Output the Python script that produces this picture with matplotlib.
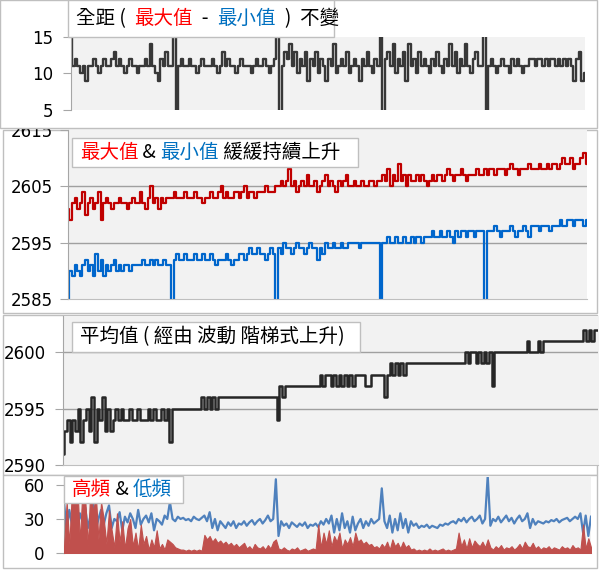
import numpy as np
import matplotlib
matplotlib.use('Agg')
import matplotlib.pyplot as plt
from matplotlib.patches import Rectangle
from matplotlib.offsetbox import TextArea, HPacker, AnchoredOffsetbox

# range (max - min), 5 blocks of 40 readings
range_vals = [
    15, 11, 12, 11, 10, 11, 9, 11, 11, 12, 11, 10, 11, 12, 11, 11, 12, 13, 11, 12,
    11, 10, 11, 12, 11, 11, 10, 11, 11, 12, 11, 14, 11, 10, 9, 12, 11, 13, 11, 11,
    16, 4, 11, 12, 11, 11, 12, 11, 11, 10, 11, 12, 11, 11, 11, 12, 11, 10, 11, 13,
    11, 12, 11, 11, 10, 11, 12, 11, 11, 11, 10, 11, 12, 11, 11, 12, 11, 10, 11, 12,
    16, 4, 11, 13, 12, 14, 11, 13, 10, 12, 11, 13, 9, 12, 11, 13, 10, 12, 11, 9,
    12, 11, 14, 10, 11, 12, 11, 13, 10, 11, 12, 11, 9, 12, 11, 13, 11, 10, 12, 11,
    16, 4, 12, 13, 11, 14, 10, 12, 11, 13, 9, 14, 11, 12, 10, 13, 11, 12, 11, 10,
    12, 11, 13, 11, 10, 12, 11, 14, 11, 13, 10, 12, 11, 14, 11, 10, 12, 13, 11, 11,
    16, 4, 11, 12, 11, 10, 11, 12, 11, 11, 10, 12, 11, 12, 11, 10, 11, 11, 12, 12,
    11, 12, 12, 11, 12, 11, 12, 12, 11, 12, 11, 12, 11, 12, 11, 9, 12, 13, 9, 10]

max_vals = [
    2601, 2599, 2602, 2603, 2601, 2602, 2604, 2600, 2602, 2603, 2601, 2602, 2604, 2599, 2602, 2603, 2602, 2601, 2602, 2602,
    2603, 2602, 2602, 2601, 2602, 2603, 2602, 2602, 2604, 2602, 2601, 2603, 2605, 2602, 2603, 2601, 2603, 2602, 2603, 2603,
    2603, 2604, 2603, 2603, 2603, 2604, 2603, 2603, 2603, 2604, 2603, 2603, 2602, 2603, 2603, 2604, 2603, 2603, 2604, 2605,
    2603, 2604, 2603, 2603, 2604, 2604, 2603, 2604, 2605, 2603, 2604, 2604, 2603, 2604, 2604, 2604, 2605, 2604, 2604, 2604,
    2605, 2605, 2606, 2605, 2606, 2608, 2605, 2606, 2604, 2605, 2606, 2605, 2607, 2605, 2605, 2606, 2604, 2605, 2606, 2607,
    2605, 2606, 2605, 2604, 2606, 2605, 2606, 2607, 2605, 2605, 2606, 2605, 2605, 2606, 2605, 2605, 2606, 2606, 2605, 2606,
    2606, 2607, 2606, 2608, 2605, 2607, 2606, 2609, 2606, 2607, 2605, 2607, 2606, 2606, 2607, 2606, 2607, 2606, 2605, 2606,
    2607, 2606, 2607, 2607, 2606, 2607, 2608, 2607, 2606, 2607, 2607, 2608, 2607, 2606, 2607, 2607, 2607, 2608, 2607, 2607,
    2608, 2607, 2608, 2608, 2607, 2608, 2608, 2608, 2607, 2608, 2609, 2608, 2608, 2607, 2608, 2608, 2608, 2609, 2608, 2608,
    2608, 2609, 2608, 2608, 2609, 2608, 2609, 2609, 2608, 2609, 2610, 2609, 2609, 2610, 2608, 2609, 2609, 2610, 2611, 2609]

min_vals = [
    2585, 2590, 2589, 2591, 2590, 2589, 2591, 2592, 2590, 2591, 2589, 2593, 2590, 2592, 2589, 2591, 2590, 2591, 2592, 2590,
    2591, 2590, 2591, 2591, 2590, 2591, 2591, 2591, 2591, 2592, 2591, 2591, 2592, 2591, 2592, 2591, 2591, 2592, 2591, 2591,
    2584, 2592, 2593, 2592, 2592, 2593, 2592, 2592, 2592, 2593, 2592, 2592, 2593, 2592, 2592, 2593, 2592, 2591, 2592, 2592,
    2592, 2593, 2592, 2591, 2592, 2592, 2593, 2593, 2592, 2593, 2594, 2593, 2593, 2594, 2593, 2593, 2592, 2593, 2594, 2593,
    2584, 2594, 2593, 2595, 2594, 2594, 2593, 2594, 2595, 2594, 2594, 2593, 2594, 2595, 2594, 2594, 2592, 2594, 2593, 2595,
    2594, 2594, 2595, 2594, 2594, 2595, 2594, 2594, 2595, 2595, 2595, 2595, 2594, 2595, 2595, 2595, 2595, 2595, 2595, 2595,
    2584, 2595, 2595, 2596, 2595, 2595, 2596, 2595, 2595, 2596, 2595, 2595, 2596, 2595, 2596, 2596, 2595, 2596, 2596, 2596,
    2597, 2596, 2596, 2597, 2596, 2596, 2597, 2596, 2595, 2597, 2596, 2597, 2597, 2596, 2597, 2597, 2596, 2597, 2597, 2597,
    2584, 2597, 2597, 2597, 2598, 2597, 2596, 2597, 2597, 2597, 2598, 2597, 2596, 2597, 2597, 2598, 2597, 2596, 2598, 2598,
    2598, 2597, 2598, 2598, 2598, 2597, 2598, 2598, 2598, 2599, 2598, 2598, 2599, 2599, 2598, 2599, 2599, 2599, 2598, 2599]

avg_vals = [
    2591, 2593, 2594, 2592, 2594, 2593, 2595, 2592, 2594, 2595, 2593, 2596, 2592, 2595, 2594, 2596, 2593, 2595, 2593, 2594,
    2595, 2594, 2595, 2594, 2594, 2595, 2594, 2594, 2595, 2594, 2594, 2594, 2595, 2594, 2595, 2594, 2594, 2595, 2594, 2595,
    2592, 2595, 2595, 2595, 2595, 2595, 2595, 2595, 2595, 2595, 2595, 2595, 2596, 2595, 2596, 2595, 2596, 2595, 2596, 2596,
    2596, 2596, 2596, 2596, 2596, 2596, 2596, 2596, 2596, 2596, 2596, 2596, 2596, 2596, 2596, 2596, 2596, 2596, 2596, 2596,
    2594, 2597, 2596, 2597, 2597, 2597, 2597, 2597, 2597, 2597, 2597, 2597, 2597, 2597, 2597, 2597, 2598, 2597, 2598, 2598,
    2597, 2598, 2597, 2598, 2597, 2598, 2597, 2598, 2597, 2598, 2598, 2598, 2598, 2597, 2597, 2598, 2598, 2598, 2598, 2598,
    2596, 2598, 2599, 2598, 2599, 2598, 2599, 2598, 2599, 2599, 2599, 2599, 2599, 2599, 2599, 2599, 2599, 2599, 2599, 2599,
    2599, 2599, 2599, 2599, 2599, 2599, 2599, 2599, 2599, 2599, 2600, 2599, 2600, 2600, 2599, 2600, 2599, 2600, 2599, 2600,
    2597, 2600, 2600, 2600, 2600, 2600, 2600, 2600, 2600, 2600, 2600, 2600, 2600, 2601, 2600, 2600, 2600, 2601, 2600, 2601,
    2601, 2601, 2601, 2601, 2601, 2601, 2601, 2601, 2601, 2601, 2601, 2601, 2601, 2601, 2602, 2601, 2602, 2601, 2602, 2602]

low_vals = [
    45, 20, 38, 25, 42, 18, 35, 28, 40, 22, 33, 45, 20, 30, 38, 25, 35, 42, 22, 30,
    28, 36, 20, 32, 27, 35, 30, 22, 38, 25, 30, 33, 27, 35, 20, 30, 28, 25, 33, 30,
    45, 30, 28, 32, 30, 31, 29, 30, 28, 32, 30, 29, 31, 33, 28, 36, 22, 30, 20, 28,
    25, 22, 27, 24, 28, 22, 26, 25, 28, 24, 27, 29, 25, 28, 30, 26, 29, 33, 28, 30,
    65, 15, 28, 24, 26, 22, 27, 25, 23, 26, 24, 27, 22, 25, 24, 26, 23, 28, 25, 30,
    26, 33, 18, 30, 20, 35, 22, 28, 18, 32, 20, 26, 30, 22, 28, 24, 30, 26, 28, 30,
    57, 28, 22, 33, 18, 30, 20, 35, 22, 30, 18, 28, 24, 26, 22, 24, 23, 25, 22, 24,
    23, 22, 25, 24, 26, 25, 27, 28, 26, 30, 28, 31, 27, 30, 32, 28, 30, 33, 26, 30,
    68, 24, 30, 28, 32, 27, 30, 33, 28, 31, 26, 30, 33, 28, 30, 35, 22, 30, 25, 28,
    27, 26, 28, 27, 29, 28, 30, 27, 29, 30, 31, 28, 30, 32, 30, 35, 18, 33, 15, 32]

high_vals = [
    5, 45, 8, 55, 40, 62, 10, 58, 48, 6, 60, 35, 52, 12, 45, 30, 8, 38, 20, 5,
    35, 10, 28, 4, 22, 30, 6, 18, 3, 25, 8, 15, 3, 12, 5, 20, 4, 8, 3, 12,
    10, 8, 5, 4, 3, 3, 2, 3, 2, 3, 2, 3, 2, 16, 12, 15, 10, 13, 9, 11,
    8, 10, 7, 9, 6, 8, 5, 7, 9, 4, 6, 3, 8, 5, 4, 6, 3, 7, 4, 10,
    12, 4, 3, 5, 3, 2, 4, 3, 5, 2, 3, 4, 2, 3, 4, 3, 25, 5, 18, 8,
    20, 6, 15, 10, 18, 4, 12, 8, 14, 6, 18, 10, 12, 8, 10, 7, 8, 5, 6, 4,
    8, 5, 10, 3, 12, 6, 9, 4, 10, 5, 7, 3, 4, 2, 3, 2, 3, 2, 4, 2,
    3, 2, 3, 4, 2, 3, 2, 3, 4, 18, 6, 12, 4, 13, 5, 11, 8, 6, 10, 5,
    12, 5, 3, 6, 4, 7, 3, 5, 4, 6, 3, 5, 8, 4, 10, 6, 5, 9, 4, 6,
    3, 5, 4, 6, 3, 5, 4, 3, 6, 4, 5, 3, 7, 4, 5, 3, 25, 4, 13, 5]

W, H = 600, 571
RED, BLUE = '#FF0000', '#0070C0'
plt.rcParams['font.family'] = ['Noto Sans CJK TC', 'DejaVu Sans']

fig = plt.figure(figsize=(W / 100, H / 100), dpi=100)


def frame(x0, y0, x1, y1, z):
    fig.add_artist(Rectangle((x0 / W, 1 - y1 / H), (x1 - x0) / W, (y1 - y0) / H,
                             transform=fig.transFigure, fc='white', ec='#BFBFBF', lw=1, zorder=z))


def px_axes(x0, y0, x1, y1, z):
    return fig.add_axes([x0 / W, 1 - y1 / H, (x1 - x0) / W, (y1 - y0) / H], zorder=z)


def title_box(x0, y0, x1, y1, parts, z, size=14):
    frame(x0, y0, x1, y1, z)
    box = HPacker(children=[TextArea(t, textprops=dict(color=c, fontsize=size)) for t, c in parts],
                  align='center', pad=0, sep=0)
    ab = AnchoredOffsetbox(loc='center left', child=box, pad=0, borderpad=0, frameon=False,
                           bbox_to_anchor=((x0 + 8) / W, 1 - (y0 + y1) / 2 / H), bbox_transform=fig.transFigure)
    ab.set_zorder(z + 0.1)
    fig.add_artist(ab)


def style(ax, n, ylim, ticks, grid, pad, bottom=True):
    ax.set_facecolor('#F2F2F2')
    ax.set_xlim(0, n - 1)
    ax.set_ylim(*ylim)
    ax.set_xticks([])
    ax.set_yticks(ticks)
    ax.set_yticklabels([str(t) for t in ticks])
    for s in ['top', 'right']:
        ax.spines[s].set_visible(False)
    ax.spines['left'].set_color('#A6A6A6')
    ax.spines['bottom'].set_color('#BFBFBF')
    ax.spines['bottom'].set_visible(bottom)
    ax.tick_params(axis='y', length=6, color='#A6A6A6', pad=pad, labelsize=12,
                   labelfontfamily='DejaVu Sans', labelcolor='black')
    for g in grid:
        ax.axhline(g, color='#A0A0A0', lw=1, zorder=0.5)


# panel 2 (drawn under panel 1)
frame(3, 130, 597, 313, 1)
ax2 = px_axes(68, 130, 587, 299, 2)
x = np.arange(len(max_vals))
ax2.plot(x, max_vals, color='#C00000', lw=1.6, drawstyle='steps-mid')
ax2.plot(x, min_vals, color='#0066CC', lw=1.6, drawstyle='steps-mid')
style(ax2, len(x), (2585, 2615), [2585, 2595, 2605, 2615], [2595, 2605], 5)
title_box(72, 138, 358, 167, [('最大值', RED), (' & ', 'black'), ('最小值', BLUE), (' 緩緩持續上升', 'black')], 3)

# panel 1
frame(0, 0, 597, 128, 4)
ax1 = px_axes(71, 37, 585, 110, 5)
x = np.arange(len(range_vals))
ax1.plot(x, range_vals, color='#383838', lw=1.7, drawstyle='steps-mid')
style(ax1, len(x), (5, 15), [5, 10, 15], [], 7, bottom=False)
title_box(68, 0, 334, 37, [('全距 (  ', 'black'), ('最大值', RED), ('  -  ', 'black'), ('最小值', BLUE),
                           ('  )  不變', 'black')], 6)

# panel 3
frame(3, 315, 597, 475, 1)
ax3 = px_axes(63, 316, 598, 465, 2)
x = np.arange(len(avg_vals))
ax3.plot(x, avg_vals, color='#262626', lw=1.8, drawstyle='steps-mid')
style(ax3, len(x), (2590, 2603.2), [2590, 2595, 2600], [2595, 2600], 6)
title_box(72, 322, 360, 352, [('平均值 ( 經由 波動 階梯式上升)', 'black')], 3)

# panel 4
frame(3, 475, 597, 568, 4)
ax4 = px_axes(64, 477, 591, 553, 5)
x = np.arange(len(low_vals))
ax4.plot(x, low_vals, color='#4F81BD', lw=1.6, zorder=2)
ax4.fill_between(x, 0, high_vals, color='#C0504D', lw=0.8, ec='#C0504D', zorder=3)
style(ax4, len(x), (0, 67), [0, 30, 60], [], 8)
title_box(64, 476, 183, 503, [('高頻', RED), (' & ', 'black'), ('低頻', BLUE)], 6)

fig.savefig('out.png', dpi=100)
